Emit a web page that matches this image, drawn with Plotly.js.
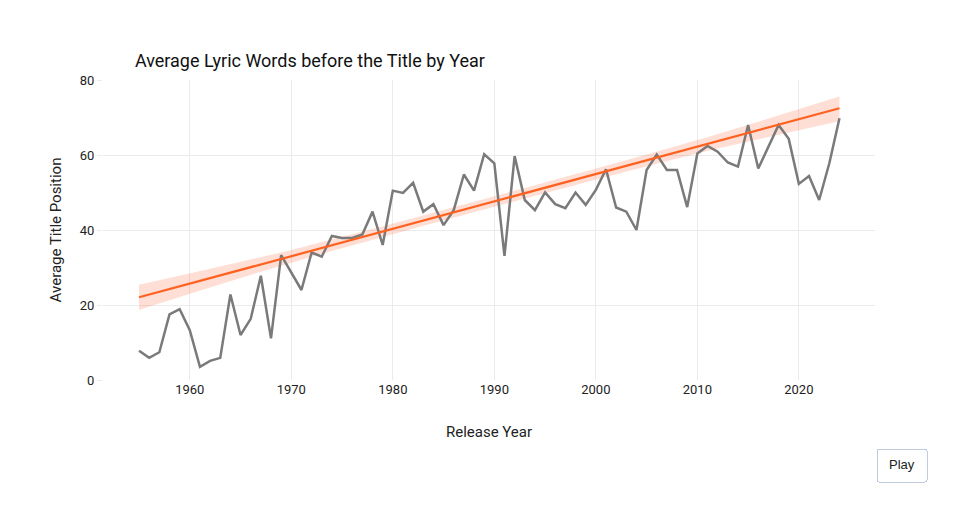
<!DOCTYPE html>
<html>
<head>
<meta charset="utf-8">
<script src="https://cdn.plot.ly/plotly-3.0.1.min.js"></script>
<style>html,body{margin:0;padding:0;background:#fff;}#chart{width:960px;height:524px;}</style>
</head>
<body>
<div id="chart"></div>
<script>
const years = [1955,1956,1957,1958,1959,1960,1961,1962,1963,1964,1965,1966,1967,1968,1969,
  1970,1971,1972,1973,1974,1975,1976,1977,1978,1979,1980,1981,1982,1983,1984,1985,1986,1987,1988,1989,
  1990,1991,1992,1993,1994,1995,1996,1997,1998,1999,2000,2001,2002,2003,2004,2005,2006,2007,2008,2009,
  2010,2011,2012,2013,2014,2015,2016,2017,2018,2019,2020,2021,2022,2023,2024];
const avgPosition = [7.8,5.9,7.4,17.5,18.9,13.3,3.5,5.1,5.9,22.8,12.0,16.3,27.8,11.1,33.3,
  28.7,24.0,34.0,32.9,38.4,37.9,37.9,38.8,44.9,36.0,50.5,49.9,52.6,44.9,46.9,41.3,45.3,54.8,50.5,60.2,
  57.8,33.1,59.7,48.0,45.3,50.0,46.9,45.8,50.0,46.7,50.7,56.2,46.0,44.9,40.0,56.0,60.1,56.0,56.0,46.1,
  60.4,62.4,60.9,58.0,56.9,68.0,56.4,62.2,68.0,64.3,52.3,54.4,48.0,57.8,69.8];

// trend line and its confidence band
const trendYears = [1955, 2024];
const trendValues = [22.05, 72.45];
const bandYears = [1955, 1970, 1990, 2010, 2024];
const bandLower = [18.7, 31.3, 46.2, 60.4, 69.0];
const bandUpper = [25.4, 34.7, 49.0, 64.0, 75.6];

const xTicks = [1960,1970,1980,1990,2000,2010,2020];
const yTicks = [0,20,40,60,80];

const FONT = 'Roboto, "Noto Sans", sans-serif';
const traces = [
  {x: bandYears, y: bandLower, mode:'lines', line:{width:0, color:'rgba(0,0,0,0)', shape:'spline', smoothing:0.8}, hoverinfo:'skip', showlegend:false},
  {x: bandYears, y: bandUpper, mode:'lines', line:{width:0, color:'rgba(0,0,0,0)', shape:'spline', smoothing:0.8}, fill:'tonexty', fillcolor:'rgba(255,110,64,0.22)', hoverinfo:'skip', showlegend:false},
  {x: years, y: avgPosition, mode:'lines', line:{color:'#7a7a7a', width:2.5}, showlegend:false},
  {x: trendYears, y: trendValues, mode:'lines', line:{color:'#ff6120', width:2.2}, showlegend:false}
];

const layout = {
  width:960, height:524,
  margin:{l:103, r:85, t:80, b:144},
  paper_bgcolor:'#ffffff', plot_bgcolor:'#ffffff',
  font:{family:FONT, size:13, color:'#222'},
  title:{text:'Average Lyric Words before the Title by Year', xref:'container', x:0.1405, xanchor:'left', yref:'container', y:0.884, yanchor:'middle', font:{family:FONT, size:18, color:'#111'}},
  xaxis:{range:[1951.45, 2027.5], tickvals:xTicks, ticktext:xTicks.map(String), showgrid:true, gridcolor:'#ebebeb', zeroline:false, showline:false,
    ticks:'', tickfont:{size:13, color:'#222'},
    title:{text:'Release Year', font:{size:15, color:'#222'}, standoff:30}},
  yaxis:{range:[0,80], tickvals:yTicks, ticktext:yTicks.map(String), showgrid:true, gridcolor:'#ebebeb', zeroline:false, showline:false,
    ticks:'outside', ticklen:5, tickcolor:'#ebebeb', tickfont:{size:13, color:'#222'},
    title:{text:'Average Title Position', font:{size:15, color:'#222'}, standoff:14}},
  updatemenus:[{type:'buttons', showactive:false, x:1.001, xanchor:'left', y:-0.225, yanchor:'top',
    pad:{t:0,r:0,b:0,l:0}, bgcolor:'#ffffff', bordercolor:'#c0cbe0', borderwidth:1,
    font:{family:'"Liberation Sans", Arial, sans-serif', size:13, color:'#222'},
    buttons:[{label:'Play', method:'animate', args:[null, {frame:{duration:100, redraw:false}, fromcurrent:true}]}]}]
};
Plotly.newPlot('chart', traces, layout, {displayModeBar:false});
</script>
</body>
</html>
